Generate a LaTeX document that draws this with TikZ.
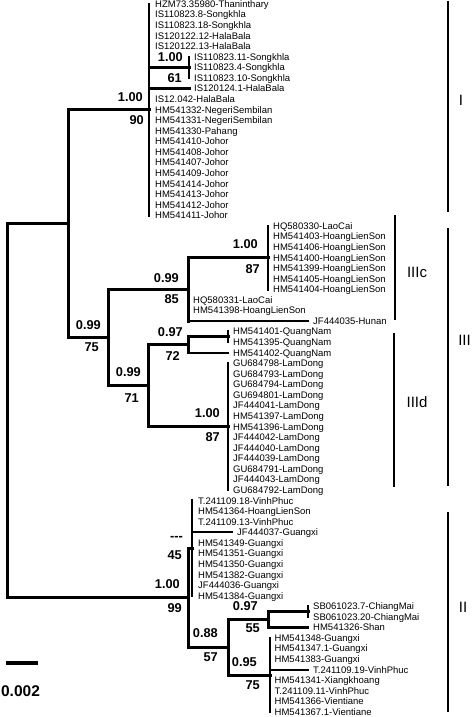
\documentclass[tikz,border=0pt]{standalone}
\usepackage{fontspec}
\setmainfont{Liberation Sans}
\begin{document}
\begin{tikzpicture}[x=1pt,y=-1pt,
  br/.style={line width=3pt,line cap=rect},
  pol/.style={line width=2.4pt,line cap=rect},
  tipln/.style={line width=2.2pt,line cap=rect},
  leaf/.style={anchor=base west,inner sep=0pt,font=\fontsize{9.5}{10}\selectfont},
  supp/.style={anchor=east,inner sep=0pt,font=\fontsize{12.8}{13}\selectfont\bfseries},
  cladelbl/.style={inner sep=0pt,font=\fontsize{15}{16}\selectfont},
  cladebar/.style={line width=1.4pt}]
\useasboundingbox (0,0) rectangle (471,717);

\foreach \i/\tx/\lx/\txt in {
0/149/155/HZM73.35980-Thaninthary,
1/149/155/IS110823.8-Songkhla,
2/149/155/IS110823.18-Songkhla,
3/149/155/IS120122.12-HalaBala,
4/149/155/IS120122.13-HalaBala,
5/189/194/IS110823.11-Songkhla,
6/189/194/IS110823.4-Songkhla,
7/189/194/IS110823.10-Songkhla,
8/190/194/IS120124.1-HalaBala,
9/149/155/IS12.042-HalaBala,
10/149/155/HM541332-NegeriSembilan,
11/149/155/HM541331-NegeriSembilan,
12/149/155/HM541330-Pahang,
13/149/155/HM541410-Johor,
14/149/155/HM541408-Johor,
15/149/155/HM541407-Johor,
16/149/155/HM541409-Johor,
17/149/155/HM541414-Johor,
18/149/155/HM541413-Johor,
19/149/155/HM541412-Johor,
20/149/155/HM541411-Johor,
21/268/273/HQ580330-LaoCai,
22/268/273/HM541403-HoangLienSon,
23/268/273/HM541406-HoangLienSon,
24/268/273/HM541400-HoangLienSon,
25/268/273/HM541399-HoangLienSon,
26/268/273/HM541405-HoangLienSon,
27/268/273/HM541404-HoangLienSon,
28/188/193/HQ580331-LaoCai,
29/188/193/HM541398-HoangLienSon,
30/308/313/JF444035-Hunan,
31/228/233/HM541401-QuangNam,
32/228/233/HM541395-QuangNam,
33/228/233/HM541402-QuangNam,
34/228/233/GU684798-LamDong,
35/228/233/GU684793-LamDong,
36/228/233/GU684794-LamDong,
37/228/233/GU694801-LamDong,
38/228/233/JF444041-LamDong,
39/228/233/HM541397-LamDong,
40/228/233/HM541396-LamDong,
41/228/233/JF444042-LamDong,
42/228/233/JF444040-LamDong,
43/228/233/JF444039-LamDong,
44/228/233/GU684791-LamDong,
45/228/233/JF444043-LamDong,
46/228/233/GU684792-LamDong,
47/192/198/T.241109.18-VinhPhuc,
48/192/198/HM541364-HoangLienSon,
49/192/198/T.241109.13-VinhPhuc,
50/232/237/JF444037-Guangxi,
51/192/198/HM541349-Guangxi,
52/192/198/HM541351-Guangxi,
53/192/198/HM541350-Guangxi,
54/192/198/HM541382-Guangxi,
55/192/198/JF444036-Guangxi,
56/192/198/HM541384-Guangxi,
57/308/313/SB061023.7-ChiangMai,
58/308/313/SB061023.20-ChiangMai,
59/308/313/HM541326-Shan,
60/270/274.5/HM541348-Guangxi,
61/270/274.5/HM541347.1-Guangxi,
62/270/274.5/HM541383-Guangxi,
63/308/313/T.241109.19-VinhPhuc,
64/270/274.5/HM541341-Xiangkhoang,
65/270/274.5/T.241109.11-VinhPhuc,
66/270/274.5/HM541366-Vientiane,
67/270/274.5/HM541367.1-Vientiane}{
  \coordinate (t\i) at (\tx,{4+10.567*\i});
  \node[leaf] (l\i) at (\lx,{7.4+10.567*\i}) {\txt};
}

% internal nodes
\coordinate (root) at (7,410.5);
\coordinate (n68) at (68,223.3);
\coordinate (cI) at (149,109);
\coordinate (sI) at (189,67.4);
\coordinate (n108) at (108,337.5);
\coordinate (c3c) at (188,289.3);
\coordinate (in3c) at (268,257.6);
\coordinate (n148) at (148,385.8);
\coordinate (qn) at (188,344.8);
\coordinate (pr) at (228,336.9);
\coordinate (ld) at (228,426.7);
\coordinate (nII) at (188,597.8);
\coordinate (pII) at (192,548.3);
\coordinate (n228) at (228,647.3);
\coordinate (sb) at (268,619.5);
\coordinate (sbp) at (308,611.6);
\coordinate (bp) at (270,675);

% root
\draw[br] (root |- n68) -- (root |- nII);
\draw[br] (root |- n68) -- (n68);
\draw[br] (root |- nII) -- (nII);
% clade I + III
\draw[br] (n68 |- cI) -- (n68 |- n108);
\draw[br] (n68 |- cI) -- (cI);
\draw[br] (n68 |- n108) -- (n108);
% clade I
\draw[pol] (cI |- t0) -- (cI |- t20);
\draw[br] (cI |- sI) -- (sI);
\draw[pol] (sI |- t5) -- (sI |- t7);
\draw[tipln] (cI |- t8) -- (t8);
% clade III
\draw[br] (n108 |- c3c) -- (n108 |- n148);
\draw[br] (n108 |- c3c) -- (c3c);
\draw[br] (n108 |- n148) -- (n148);
\draw[br] (c3c |- in3c) -- (c3c |- t30);
\draw[br] (c3c |- in3c) -- (in3c);
\draw[pol] (in3c |- t21) -- (in3c |- t27);
\draw[tipln] (c3c |- t30) -- (t30);
\draw[br] (n148 |- qn) -- (n148 |- ld);
\draw[br] (n148 |- qn) -- (qn);
\draw[br] (n148 |- ld) -- (ld);
\draw[br] (qn |- pr) -- (qn |- t33);
\draw[br] (qn |- pr) -- (pr);
\draw[tipln] (qn |- t33) -- (t33);
\draw[pol] (pr |- t31) -- (pr |- t32);
\draw[pol] (ld |- t34) -- (ld |- t46);
% clade II
\draw[br] (nII |- pII) -- (nII |- n228);
\draw[br] (nII |- pII) -- (pII);
\draw[br] (nII |- n228) -- (n228);
\draw[pol] (pII |- t47) -- (pII |- t56);
\draw[tipln] (pII |- t50) -- (t50);
\draw[br] (n228 |- sb) -- (n228 |- bp);
\draw[br] (n228 |- sb) -- (sb);
\draw[br] (n228 |- bp) -- (bp);
\draw[br] (sb |- sbp) -- (sb |- t59);
\draw[br] (sb |- sbp) -- (sbp);
\draw[tipln] (sb |- t59) -- (t59);
\draw[pol] (sbp |- t57) -- (sbp |- t58);
\draw[pol] (bp |- t60) -- (bp |- t67);
\draw[tipln] (bp |- t63) -- (t63);

% support values
\node[supp] (s1a) at (143,97) {1.00};
\node[supp] (s1b) at (144,120) {90};
\node[supp] (s2a) at (183,57) {1.00};
\node[supp] (s2b) at (182,78) {61};
\node[supp] (s3a) at (258,244) {1.00};
\node[supp] (s3b) at (260,269) {87};
\node[supp] (s4a) at (179,278) {0.99};
\node[supp] (s4b) at (179,299) {85};
\node[supp] (s5a) at (101,325) {0.99};
\node[supp] (s5b) at (99,347) {75};
\node[supp] (s6a) at (141,372) {0.99};
\node[supp] (s6b) at (139,398) {71};
\node[supp] (s7a) at (183,332) {0.97};
\node[supp] (s7b) at (180,356) {72};
\node[supp] (s8a) at (220,413) {1.00};
\node[supp] (s8b) at (220,437) {87};
\node[supp] (s9a) at (180,584) {1.00};
\node[supp] (s9b) at (182,608) {99};
\node[supp] (s10a) at (183,538) {-{}-{}-};
\node[supp] (s10b) at (182,555) {45};
\node[supp] (s11a) at (218,633) {0.88};
\node[supp] (s11b) at (218,657) {57};
\node[supp] (s12a) at (258,606) {0.97};
\node[supp] (s12b) at (260,628) {55};
\node[supp] (s13a) at (257,662) {0.95};
\node[supp] (s13b) at (260,685) {75};

% clade bars
\coordinate (bI1) at (448,1);   \coordinate (bI2) at (448,212);
\coordinate (b3c1) at (395,215); \coordinate (b3c2) at (395,320);
\coordinate (b31) at (448,228); \coordinate (b32) at (448,486);
\coordinate (b3d1) at (394,333); \coordinate (b3d2) at (394,487);
\coordinate (bII1) at (448,512); \coordinate (bII2) at (448,712);
\draw[cladebar] (bI1) -- (bI2);
\draw[cladebar] (b3c1) -- (b3c2);
\draw[cladebar] (b31) -- (b32);
\draw[cladebar] (b3d1) -- (b3d2);
\draw[cladebar] (bII1) -- (bII2);
\node[cladelbl] (cl1) at (461,100) {I};
\node[cladelbl] (cl3c) at (417,272) {IIIc};
\node[cladelbl] (cl3) at (464.5,340) {III};
\node[cladelbl] (cl3d) at (417,402) {IIId};
\node[cladelbl] (cl2) at (463,607) {II};

% scale bar
\coordinate (sc1) at (6,663);
\coordinate (sc2) at (38,663);
\draw[line width=4pt] (sc1) -- (sc2);
\node[inner sep=0pt,font=\fontsize{15.5}{16}\selectfont\bfseries] (scl) at (20.5,691) {0.002};
\end{tikzpicture}
\end{document}
